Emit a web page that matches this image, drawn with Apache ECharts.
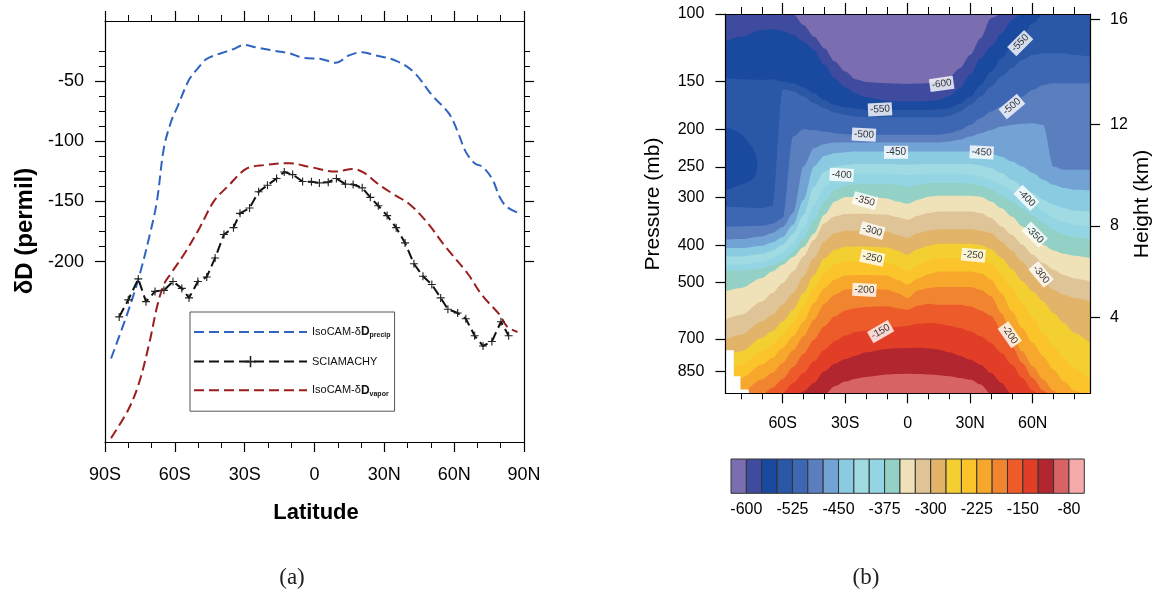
<!DOCTYPE html>
<html>
<head>
<meta charset="utf-8">
<script src="https://cdn.jsdelivr.net/npm/echarts@6.0.0/dist/echarts.min.js"></script>
<style>
html,body{margin:0;padding:0;background:#fff;}
#chart{width:1164px;height:594px;}
</style>
</head>
<body>
<div id="chart"></div>
<script>
// ================= Panel (a): zonal mean dD =================
const latTicksA = [-90, -60, -30, 0, 30, 60, 90];
const yMajorA = [-50, -100, -150, -200];
const yMinorA = [-25, -37.5, -62.5, -75, -87.5, -112.5, -125, -137.5, -162.5, -175, -187.5];

const nameP = 'IsoCAM-δDprecip';
const nameS = 'SCIAMACHY';
const nameV = 'IsoCAM-δDvapor';

const precipLat = [-87.4,-80,-75.4,-70.8,-67.7,-64.7,-61.6,-58.8,-53.9,-50.1,-46.3,-40.1,-35,-30.2,-24.8,-18,-11,-4.8,2.8,9.0,15.1,20.5,25.9,35.1,42.7,50.4,57.8,61.5,65,68.8,72.4,76.5,79.6,82.6,87.2];
const precipVal = [-280.6,-241,-212.8,-178,-149.8,-105.6,-83.6,-71,-48.9,-39.4,-31.5,-26.8,-23.5,-19.9,-22.1,-24.5,-26.8,-30.6,-31.5,-34.7,-28.4,-25.9,-28.4,-33.1,-42.6,-61.5,-77,-92,-108.8,-118.2,-121.5,-132,-146.6,-154.5,-159.2];

const sciaLat = [-83.9,-80,-75.7,-72.4,-68.5,-64.7,-60.8,-57,-53.9,-50.1,-46.3,-42.7,-38.9,-34.8,-32,-27.9,-24,-20.2,-16.3,-13,-9.4,-5.1,-1.3,2.1,5.9,9.4,13.3,16.6,20.5,24,27.4,31.2,35.1,38.9,42.7,46.6,50.4,54.2,57.3,61.5,65,68.8,72.4,76.2,80.1,83.4];
const sciaVal = [-246,-231.8,-214.4,-233.3,-224.8,-223.9,-216.6,-222.3,-230.2,-216.6,-212.8,-197,-177.5,-171.8,-159.9,-155.5,-141.9,-136.5,-130.9,-125.5,-127.7,-133.4,-133.7,-134.6,-134,-130.9,-135.6,-135.9,-138.7,-146.6,-153.6,-161.8,-171.8,-184.5,-201.8,-212.2,-219.1,-230.2,-239.6,-242.8,-247.5,-261.7,-270.2,-266.4,-250,-261.7];

const vaporLat = [-87.4,-80,-75.4,-70.8,-67.7,-64.7,-61.6,-55.5,-49.3,-43.2,-37.1,-29.4,-21.7,-11,-1.8,9.0,16.6,21.2,27.4,33.5,41.2,48.9,56,65.7,72,79.6,82.6,87.2];
const vaporVal = [-346.8,-323.2,-301,-266.4,-238,-219,-209.7,-192.3,-171.8,-149.8,-137.2,-123,-119.8,-118.2,-121.4,-125.2,-123,-126.1,-135.6,-143.5,-152.9,-168.7,-187,-209.7,-228,-244.4,-253.8,-258.6];

// ================= Panel (b): dD vapor cross-section =================
const latMajorB = [-60, -30, 0, 30, 60];
const latMinorB = [-80, -70, -50, -40, -20, -10, 10, 20, 40, 50, 70, 80];
const pTicks = [100, 150, 200, 250, 300, 400, 500, 700, 850];
const heightKm = [4, 8, 12, 16];
const heightP = [616, 356, 194, 103.5];
const pTop = 100, pBottom = 970;

// latitudes at which the contour boundaries were read
const contourLat = [-87.5,-80,-70,-65,-60,-55,-50,-45,-40,-35,-30,-25,-20,-10,-5,0,5,10,15,20,25,30,35,40,45,50,55,60,65,70,75,80,87.5];
// pressure (mb) of each contour level along contourLat (below the line the value exceeds the level)
const p_m600 = [100,100,100,100,100,100,106.8,114.5,122.8,133.0,141.2,147.8,150.2,151.4,151.7,152.0,151.7,151.4,149.9,146.0,138.4,127.8,115.6,102.6,100,100,100,100,100,100,100,100,100];
const p_m575 = [118.0,114.5,110.0,109.6,110.5,113.3,118.0,124.0,135.6,147.0,155.0,160.7,164.6,168.0,169.0,169.0,169.0,168.3,167.3,163.3,156.0,144.0,130.4,121.6,112.2,103.6,100,100,100,100,100,100,100];
const p_m550 = [146.9,147.8,148.4,147.8,149.9,151.4,155.0,160.7,167.3,172.4,174.8,176.2,177.6,177.6,177.6,177.6,177.6,177.6,176.9,175.9,171.3,164.0,152.9,141.2,130.3,121.6,113.3,105.7,100,100,100,100,100];
const p_m525 = [316.7,318.0,319.9,315.5,157.0,159.1,164.0,170.7,175.9,180.5,183.0,184.8,185.6,185.6,185.6,185.6,185.6,185.6,185.6,184.1,179.4,172.4,164.0,154.4,145.5,138.4,131.7,127.8,126.5,126.5,126.5,127.8,129.1];
const p_m500 = [357.0,357.0,355.6,351.4,339.6,208.3,199.3,200.2,202.2,204.2,205.4,206.2,206.2,206.2,206.2,206.2,206.2,206.2,206.2,204.2,200.2,194.3,186.6,179.4,174.1,170.7,164.0,157.5,152.9,151.4,151.4,151.4,151.4];
const p_m475 = [386.6,385.1,379.1,371.5,358.4,329.6,249.3,223.4,217.8,215.9,215.9,215.9,215.9,215.9,215.9,215.9,215.9,215.9,215.9,214.6,212.5,208.3,204.2,200.2,196.2,194.3,193.1,192.4,194.3,249.3,254.3,254.3,254.3];
const p_m450 = [406.4,406.4,400.8,392.8,380.4,353.5,304.3,249.3,233.8,230.2,228.8,227.9,227.9,227.9,227.9,227.9,227.9,227.9,227.9,227.9,227.9,227.9,229.3,231.1,235.0,241.9,249.3,259.4,270.0,278.2,283.7,286.5,287.6];
const p_m425 = [427.2,427.2,421.3,412.2,398.4,373.0,332.9,281.0,256.8,249.3,246.9,245.5,245.5,245.5,246.0,246.5,246.0,245.5,245.5,245.5,245.5,245.5,247.9,251.8,259.4,270.0,281.0,292.4,304.3,313.6,320.0,324.5,326.4];
const p_m400 = [449.0,449.0,442.7,433.2,418.8,394.5,360.6,313.6,282.1,267.3,261.5,260.4,260.4,260.4,261.5,262.5,261.5,260.4,260.4,260.4,260.4,261.5,264.7,270.0,278.2,287.8,298.3,311.7,326.4,339.6,348.6,353.5,357.0];
const p_m375 = [464.5,464.5,458.9,449.9,437.5,414.7,382.8,343.0,307.4,286.6,279.3,277.1,276.5,276.5,278.7,282.1,278.2,275.4,275.4,275.4,275.4,276.5,279.9,285.5,295.3,307.4,320.0,334.8,350.0,364.2,375.2,380.4,385.1];
const p_m350 = [526.7,516.3,486.4,467.4,449.0,429.0,404.0,373.0,332.9,307.4,299.5,298.9,298.9,301.8,307.4,311.7,304.3,298.9,297.1,297.1,297.1,297.1,298.9,307.4,320.0,336.3,357.0,379.1,398.4,412.2,420.5,425.5,431.5];
const p_m325 = [624.1,606.0,559.3,532.0,501.0,467.4,427.2,386.6,350.0,336.3,331.6,330.9,330.9,332.9,337.6,343.0,334.9,329.6,326.3,326.3,326.3,326.3,329.6,339.6,357.0,375.2,398.4,423.0,444.6,462.7,477.6,487.3,496.1];
const p_m300 = [703.4,682.7,630.5,606.0,570.5,532.0,481.5,431.5,390.5,371.5,366.4,365.7,365.7,367.9,375.2,382.8,371.5,365.7,362.8,362.8,362.8,362.8,365.7,371.5,390.5,412.2,440.2,472.0,498.9,521.5,537.4,548.3,559.3];
const p_m275 = [777.2,754.4,696.4,669.3,630.5,587.9,532.0,477.6,431.5,410.6,403.2,402.4,402.4,404.8,412.2,423.0,408.9,400.8,396.1,396.1,396.1,396.1,399.2,408.9,431.5,460.9,496.1,526.7,559.3,599.7,636.7,675.9,717.6];
const p_m250 = [841.8,817.0,754.4,724.9,682.7,636.7,576.2,516.3,472.0,449.0,441.1,440.2,440.2,442.7,451.7,467.4,449.0,437.5,431.5,431.5,431.5,431.5,434.1,446.3,477.6,516.3,564.8,618.1,675.9,732.1,785.2,833.4,893.7];
const p_m225 = [911.7,884.8,817.0,785.2,739.5,689.6,630.5,564.8,516.3,491.2,479.6,477.6,477.6,479.6,491.2,505.2,487.3,474.8,467.4,467.4,467.4,467.4,472.0,491.2,532.0,593.7,656.0,717.6,777.2,841.8,902.7,955.0,1000];
const p_m200 = [1000,967.5,893.7,858.7,809.0,750.0,689.6,624.1,566.9,537.4,521.5,519.4,519.4,521.5,532.0,548.3,523.6,516.3,513.3,513.3,513.3,513.3,521.5,542.7,599.7,682.7,754.4,825.1,893.7,955.0,1000,1000,1000];
const p_m175 = [1000,1000,978,939.5,890.2,828.4,765.0,703.4,649.5,611.8,590.4,582.6,578.5,576.2,582.6,587.9,573.9,566.9,570.5,570.5,570.5,576.2,590.4,609.4,662.6,732.1,809.0,884.8,955.0,1000,1000,1000,1000];
const p_m150 = [1000,1000,1000,1000,967.5,911.7,858.7,800.9,746.9,710.4,686.5,671.8,665.9,656.0,652.1,647.0,639.4,636.7,639.4,647.0,656.0,669.3,689.6,717.6,761.9,817.0,884.8,955.0,1000,1000,1000,1000,1000];
const p_m125 = [1000,1000,1000,1000,1000,1000,958.9,911.7,850.2,812.1,789.8,774.1,758.9,744.0,741.0,739.5,738.0,741.0,746.9,758.9,774.1,792.9,817.0,858.7,911.7,977.8,1000,1000,1000,1000,1000,1000,1000];
const p_m100 = [1000,1000,1000,1000,1000,1000,1000,1000,978,930.1,904.3,888.4,880.1,867.3,864.0,862.3,864.0,867.3,870.8,876.0,884.8,893.7,920.8,975,1000,1000,1000,1000,1000,1000,1000,1000,1000];
const contourP = [p_m600,p_m575,p_m550,p_m525,p_m500,p_m475,p_m450,p_m425,p_m400,p_m375,p_m350,p_m325,p_m300,p_m275,p_m250,p_m225,p_m200,p_m175,p_m150,p_m125,p_m100];

// enclosed low-value pocket near 250 mb at the southern edge (-575 to -550 band)
const pocketLat = [-87.5,-82,-77.3,-73.3,-72.2,-74.1,-80.5,-87.5];
const pocketP = [200,202,212.5,230.2,249.3,267.3,278.2,283.8];

// missing data (below surface) steps at the south pole
const surfLatFrom = [-87.5,-83.7,-80.5];
const surfLatTo = [-83.7,-80.5,-76.5];
const surfP = [749,876,948];

// contour labels
const cLabelText = ['-600','-550','-500','-450','-450','-400','-350','-300','-250','-250','-200','-150','-550','-500','-400','-350','-300','-200'];
const cLabelLat = [16.3,-13.3,-21,-5.6,35.5,-31.7,-20.5,-17,-17,31.5,-20.8,-13,54,50,57,61,64,49];
const cLabelP = [152,177,206,229,229,262,306,366,431,424,522,670,119,174,301,375,476,683];
const cLabelAngle = [8,3,-3,0,-3,-3,-15,-15,-12,-5,-3,30,45,40,-45,-45,-50,-55];

// colour scale
const cbLevels = [-600,-575,-550,-525,-500,-475,-450,-425,-400,-375,-350,-325,-300,-275,-250,-225,-200,-175,-150,-125,-100,-80];
const cbLabels = [-600,-525,-450,-375,-300,-225,-150,-80];
const bandColors = ['#7a6eb0','#3f4b9f','#1a4a9f','#2a57a6','#3d67b3','#5b7ebf','#73a2d4','#8acbe2','#a0dae2','#94d5e4','#93d1c6','#f0e2b8','#dfc497','#e1b46a','#f4cf31','#fbc42a','#f7a72c','#f1842f','#ee5b2b','#e23d26','#b1262f','#d76365','#f5a9ab'];

// ================= build chart =================
const FONT = '"Liberation Sans", Arial, Helvetica, sans-serif';
const L = Math.log10;
const lineBlack = {color:'#000', width:1.2};
function latLabel(v){ v = Math.round(v); return v < 0 ? (-v) + 'S' : (v > 0 ? v + 'N' : '0'); }
const zip = (a, b) => a.map((x, i) => [x, b[i]]);
const noSplit = {splitLine:{show:false}, minorSplitLine:{show:false}};

const xAxes = [
  Object.assign({gridIndex:0, type:'value', min:-90, max:90, interval:30, position:'bottom', z:10,
    axisLine:{show:true, onZero:false, lineStyle:lineBlack},
    axisTick:{show:true, length:10, lineStyle:lineBlack},
    minorTick:{show:true, splitNumber:3, length:6, lineStyle:{color:'#000', width:1}},
    axisLabel:{show:true, customValues:latTicksA, fontSize:18, color:'#000', margin:24, fontFamily:FONT, formatter:latLabel}}, noSplit),
  Object.assign({gridIndex:0, type:'value', min:-90, max:90, interval:30, position:'top', z:10,
    axisLine:{show:true, onZero:false, lineStyle:lineBlack},
    axisTick:{show:true, length:10, lineStyle:lineBlack},
    minorTick:{show:true, splitNumber:3, length:6, lineStyle:{color:'#000', width:1}},
    axisLabel:{show:false}}, noSplit),
  Object.assign({gridIndex:1, type:'value', min:-87.5, max:87.5, position:'bottom', z:10,
    axisLine:{show:true, onZero:false, lineStyle:lineBlack},
    axisTick:{show:true, length:10, customValues:latMajorB, lineStyle:lineBlack},
    axisLabel:{show:true, customValues:latMajorB, fontSize:16, color:'#000', margin:22, fontFamily:FONT, formatter:latLabel}}, noSplit),
  Object.assign({gridIndex:1, type:'value', min:-87.5, max:87.5, position:'bottom', z:10,
    axisLine:{show:false, onZero:false},
    axisTick:{show:true, length:6, customValues:latMinorB, lineStyle:{color:'#000', width:1}},
    axisLabel:{show:false}}, noSplit),
  Object.assign({gridIndex:1, type:'value', min:-87.5, max:87.5, position:'top', z:10,
    axisLine:{show:true, onZero:false, lineStyle:lineBlack},
    axisTick:{show:true, length:11, customValues:latMajorB, lineStyle:lineBlack},
    axisLabel:{show:false}}, noSplit),
  Object.assign({gridIndex:1, type:'value', min:-87.5, max:87.5, position:'top', z:10,
    axisLine:{show:false, onZero:false},
    axisTick:{show:true, length:7, customValues:latMinorB, lineStyle:{color:'#000', width:1}},
    axisLabel:{show:false}}, noSplit),
  Object.assign({gridIndex:2, type:'value', min:0, max:bandColors.length, position:'bottom',
    axisLine:{show:false, onZero:false}, axisTick:{show:false},
    axisLabel:{show:true, customValues:cbLabels.map(v => cbLevels.indexOf(v) + 1), fontSize:16, color:'#000', margin:8, fontFamily:FONT,
      formatter: v => String(cbLevels[Math.round(v) - 1])}}, noSplit)
];

const pTicksLog = pTicks.map(L);
const hLog = heightP.map(L);
const yAxes = [
  Object.assign({gridIndex:0, type:'value', min:-350, max:0, position:'left', z:10,
    axisLine:{show:true, onZero:false, lineStyle:lineBlack},
    axisTick:{show:true, length:10, customValues:yMajorA, lineStyle:lineBlack},
    axisLabel:{show:true, customValues:yMajorA, fontSize:18, color:'#000', margin:21, fontFamily:FONT}}, noSplit),
  Object.assign({gridIndex:0, type:'value', min:-350, max:0, position:'left', z:10,
    axisLine:{show:false, onZero:false},
    axisTick:{show:true, length:6, customValues:yMinorA, lineStyle:{color:'#000', width:1}},
    axisLabel:{show:false}}, noSplit),
  Object.assign({gridIndex:0, type:'value', min:-350, max:0, position:'right', z:10,
    axisLine:{show:true, onZero:false, lineStyle:lineBlack},
    axisTick:{show:true, length:10, customValues:yMajorA, lineStyle:lineBlack},
    axisLabel:{show:false}}, noSplit),
  Object.assign({gridIndex:0, type:'value', min:-350, max:0, position:'right', z:10,
    axisLine:{show:false, onZero:false},
    axisTick:{show:true, length:6, customValues:yMinorA, lineStyle:{color:'#000', width:1}},
    axisLabel:{show:false}}, noSplit),
  Object.assign({gridIndex:1, type:'value', min:L(pTop), max:L(pBottom), inverse:true, position:'left', z:10,
    axisLine:{show:true, onZero:false, lineStyle:lineBlack},
    axisTick:{show:true, length:10, customValues:pTicksLog, lineStyle:lineBlack},
    axisLabel:{show:true, customValues:pTicksLog, fontSize:16, color:'#000', margin:21, fontFamily:FONT,
      formatter: v => String(Math.round(Math.pow(10, v)))}}, noSplit),
  Object.assign({gridIndex:1, type:'value', min:L(pTop), max:L(pBottom), inverse:true, position:'right', z:10,
    axisLine:{show:true, onZero:false, lineStyle:lineBlack},
    axisTick:{show:true, length:10, customValues:hLog, lineStyle:lineBlack},
    axisLabel:{show:true, customValues:hLog, fontSize:16, color:'#000', margin:20, fontFamily:FONT,
      formatter: v => { const i = hLog.findIndex(h => Math.abs(h - v) < 1e-6); return i >= 0 ? String(heightKm[i]) : ''; }}}, noSplit),
  Object.assign({gridIndex:2, type:'value', min:0, max:1, show:false}, noSplit)
];

const dash = [10, 5];
const plusPath = 'path://M0,4.3H10V5.7H0ZM4.3,0H5.7V10H4.3Z';
const series = [
  {name:nameP, type:'line', xAxisIndex:0, yAxisIndex:0, data:zip(precipLat, precipVal), smooth:0.35,
   symbol:'none', lineStyle:{color:'#2f64c0', width:2, type:dash}, itemStyle:{color:'#2f64c0'}, z:5},
  {name:nameS, type:'line', xAxisIndex:0, yAxisIndex:0, data:zip(sciaLat, sciaVal),
   symbol:plusPath, symbolSize:8, showAllSymbol:true, lineStyle:{color:'#111', width:2, type:dash}, itemStyle:{color:'#222'}, z:6},
  {name:nameV, type:'line', xAxisIndex:0, yAxisIndex:0, data:zip(vaporLat, vaporVal), smooth:0.35,
   symbol:'none', lineStyle:{color:'#9b1e1e', width:2, type:dash}, itemStyle:{color:'#9b1e1e'}, z:5}
];

contourP.forEach((ps, k) => {
  series.push({
    type:'line', xAxisIndex:2, yAxisIndex:4, silent:true,
    data: contourLat.map((la, i) => [la, L(ps[i])]),
    symbol:'none', smooth:0.3, smoothMonotone:'x',
    lineStyle:{width:0, opacity:0},
    areaStyle:{color:bandColors[k + 1], opacity:1, origin:'end'},
    z:2
  });
});

series.push({
  type:'custom', xAxisIndex:2, yAxisIndex:4, silent:true, clip:true, z:2,
  data: pocketLat.map((la, i) => [la, L(pocketP[i])]),
  encode:{x:0, y:1},
  renderItem:(params, api) => {
    if (params.dataIndex !== 0) return null;
    const pts = pocketLat.map((la, i) => api.coord([la, L(pocketP[i])]));
    return {type:'polygon', shape:{points:pts, smooth:0.35}, style:{fill:bandColors[2]}};
  }
});

series.push({
  type:'custom', xAxisIndex:2, yAxisIndex:4, silent:true, clip:true, z:2,
  data: surfP.map((p, i) => [surfLatFrom[i], surfLatTo[i], L(p)]),
  encode:{x:[0, 1], y:2},
  renderItem:(params, api) => {
    const a = api.coord([api.value(0), api.value(2)]);
    const b = api.coord([api.value(1), L(pBottom)]);
    return {type:'rect', shape:{x:a[0], y:a[1], width:b[0] - a[0] + 0.5, height:b[1] - a[1]}, style:{fill:'#fff'}};
  }
});

series.push({
  type:'scatter', xAxisIndex:2, yAxisIndex:4, silent:true, symbolSize:1, z:8,
  itemStyle:{color:'rgba(0,0,0,0)'},
  label:{show:true, position:'inside', formatter:'{b}', fontSize:10, color:'#000', fontFamily:FONT,
         backgroundColor:'#fff', padding:[2,2,1,2]},
  data: cLabelText.map((t, i) => ({name:t, value:[cLabelLat[i], L(cLabelP[i])], label:{rotate:cLabelAngle[i]}}))
});

series.push({
  type:'custom', xAxisIndex:6, yAxisIndex:6, silent:true, z:3,
  data: bandColors.map((c, i) => [i, i + 1]),
  encode:{x:[0, 1]},
  renderItem:(params, api) => {
    const a = api.coord([api.value(0), 1]);
    const b = api.coord([api.value(1), 0]);
    return {type:'rect', shape:{x:a[0], y:a[1], width:b[0] - a[0], height:b[1] - a[1]},
            style:{fill:bandColors[params.dataIndex], stroke:'#333', lineWidth:1}};
  }
});

const legendRich = {};
legendRich[nameP] = 'IsoCAM-δ{d|D}{s|precip}';
legendRich[nameS] = 'SCIAMACHY';
legendRich[nameV] = 'IsoCAM-δ{d|D}{s|vapor}';

const option = {
  animation:false,
  backgroundColor:'#fff',
  textStyle:{fontFamily:FONT, color:'#000'},
  grid:[
    {left:105, top:21, width:419, height:421},
    {left:725.4, top:14, width:364.6, height:379.3, show:true, backgroundColor:bandColors[0], borderWidth:0},
    {left:731, top:459, width:353.3, height:34.3}
  ],
  legend:{
    show:true,
    data:[nameP, {name:nameS, itemStyle:{opacity:1}}, nameV],
    orient:'vertical', left:190, top:312,
    itemWidth:113, itemHeight:14, itemGap:17, padding:[14,4,14,3],
    borderColor:'#555', borderWidth:1, backgroundColor:'#fff', selectedMode:false, z:12,
    itemStyle:{opacity:0},
    textStyle:{fontSize:11, color:'#111', fontFamily:FONT,
      rich:{d:{fontSize:12, fontWeight:'bold', color:'#111', fontFamily:FONT},
            s:{fontSize:7, fontWeight:'bold', color:'#111', fontFamily:FONT, padding:[7,0,0,0]}}},
    formatter: n => legendRich[n]
  },
  xAxis:xAxes,
  yAxis:yAxes,
  series:series,
  graphic:[
    {type:'text', x:25, y:231, rotation:Math.PI/2, z:20,
     style:{text:'δD (permil)', font:'bold 24px ' + FONT, fill:'#000', align:'center', verticalAlign:'middle'}},
    {type:'text', x:316, y:513, z:20,
     style:{text:'Latitude', font:'bold 22px ' + FONT, fill:'#000', align:'center', verticalAlign:'middle'}},
    {type:'text', x:653, y:204, rotation:Math.PI/2, z:20,
     style:{text:'Pressure (mb)', font:'21px ' + FONT, fill:'#000', align:'center', verticalAlign:'middle'}},
    {type:'text', x:1142, y:204, rotation:Math.PI/2, z:20,
     style:{text:'Height (km)', font:'21px ' + FONT, fill:'#000', align:'center', verticalAlign:'middle'}},
    {type:'text', x:292, y:578, z:20,
     style:{text:'(a)', font:'23px "Liberation Serif", "DejaVu Serif", serif', fill:'#222', align:'center', verticalAlign:'middle'}},
    {type:'text', x:866, y:578, z:20,
     style:{text:'(b)', font:'23px "Liberation Serif", "DejaVu Serif", serif', fill:'#222', align:'center', verticalAlign:'middle'}}
  ]
};

const chart = echarts.init(document.getElementById('chart'), null, {renderer:'canvas', width:1164, height:594});
chart.setOption(option);
</script>
</body>
</html>
